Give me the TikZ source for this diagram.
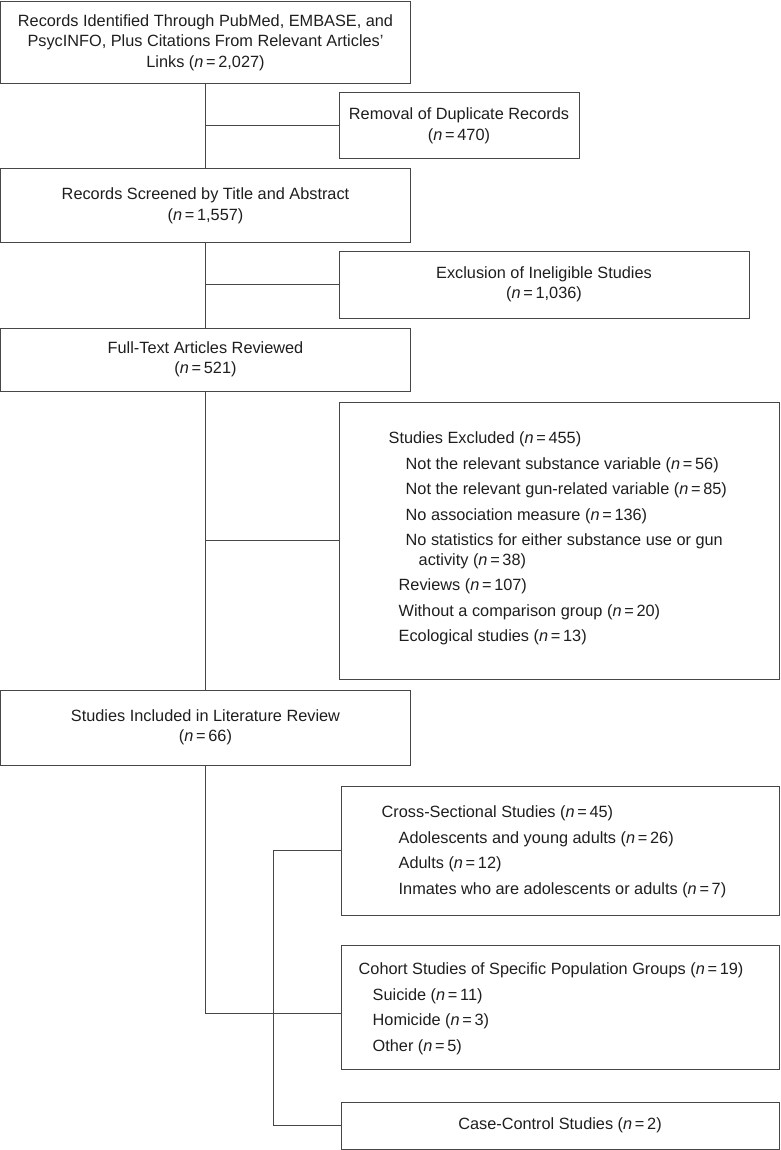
\documentclass[tikz,border=0pt]{standalone}
\usepackage{fontspec}
\setmainfont{Liberation Sans}
\usepackage{tikz}

\definecolor{linegray}{HTML}{474747}
\definecolor{txtgray}{HTML}{1E1E1E}
\newcommand{\nval}[1]{(\textit{n}\,=\,#1)}

\begin{document}
\begin{tikzpicture}[x=1pt, y=-1pt,
  box/.style={draw=linegray, line width=1pt, inner sep=0pt, align=center,
    text=txtgray, font=\fontsize{16.3}{20.5}\selectfont},
  list/.style={inner sep=0pt, align=left, anchor=north west,
    text=txtgray, font=\fontsize{16.3}{25.5}\selectfont},
  link/.style={draw=linegray, line width=1pt}]
\useasboundingbox (0,0) rectangle (780,1150);

% Main column
\node[box, minimum width=410, minimum height=82] (ident) at (205.5,42.5)
  {Records Identified Through PubMed, EMBASE, and\\
   PsycINFO, Plus Citations From Relevant Articles'\\
   Links \nval{2,027}};
\node[box, minimum width=410, minimum height=74] (screen) at (205.5,206)
  {Records Screened by Title and Abstract\\ \nval{1,557}};
\node[box, minimum width=410, minimum height=63] (fulltext) at (205.5,359.5)
  {Full-Text Articles Reviewed\\ \nval{521}};
\node[box, minimum width=410, minimum height=75] (included) at (205.5,727.5)
  {Studies Included in Literature Review\\ \nval{66}};

% Side boxes
\node[box, minimum width=240, minimum height=66] (remove) at (459,126)
  {Removal of Duplicate Records\\ \nval{470}};
\node[box, minimum width=410, minimum height=67] (exclude) at (544,284.5)
  {Exclusion of Ineligible Studies\\ \nval{1,036}};
\node[box, minimum width=440, minimum height=277] (excluded) at (559,540.5) {};
\node[box, minimum width=438, minimum height=129] (cross) at (560,850.5) {};
\node[box, minimum width=438, minimum height=124] (cohort) at (560,1007) {};
\node[box, minimum width=438, minimum height=47] (casectl) at (560,1125.5)
  {Case-Control Studies \nval{2}};

% Box contents
\node[list] (excl-list) at ([shift={(50,30)}]excluded.north west)
  {Studies Excluded \nval{455}\\
   \hspace*{17pt}Not the relevant substance variable \nval{56}\\
   \hspace*{17pt}Not the relevant gun-related variable \nval{85}\\
   \hspace*{17pt}No association measure \nval{136}\\
   \hspace*{17pt}No statistics for either substance use or gun\\[-6pt]
   \hspace*{30pt}activity \nval{38}\\
   \hspace*{10pt}Reviews \nval{107}\\
   \hspace*{10pt}Without a comparison group \nval{20}\\
   \hspace*{10pt}Ecological studies \nval{13}};
\node[list] (cross-list) at ([shift={(41,20)}]cross.north west)
  {Cross-Sectional Studies \nval{45}\\
   \hspace*{17pt}Adolescents and young adults \nval{26}\\
   \hspace*{17pt}Adults \nval{12}\\
   \hspace*{17pt}Inmates who are adolescents or adults \nval{7}};
\node[list] (cohort-list) at ([shift={(18,18)}]cohort.north west)
  {Cohort Studies of Specific Population Groups \nval{19}\\
   \hspace*{14pt}Suicide \nval{11}\\
   \hspace*{14pt}Homicide \nval{3}\\
   \hspace*{14pt}Other \nval{5}};

% Connectors
\draw[link] (ident) -- (screen);
\draw[link] (remove.west) -- (remove.west -| ident.south);
\draw[link] (screen) -- (fulltext);
\draw[link] (exclude.west) -- (exclude.west -| screen.south);
\draw[link] (fulltext) -- (included);
\draw[link] (excluded.west) -- (excluded.west -| fulltext.south);
\draw[link] (included.south) |- ([yshift=-6pt]cohort.west);
\coordinate (fork) at ([xshift=-67pt]cross.west);
\draw[link] (cross.west) -- (fork) |- (casectl.west);

\end{tikzpicture}
\end{document}
